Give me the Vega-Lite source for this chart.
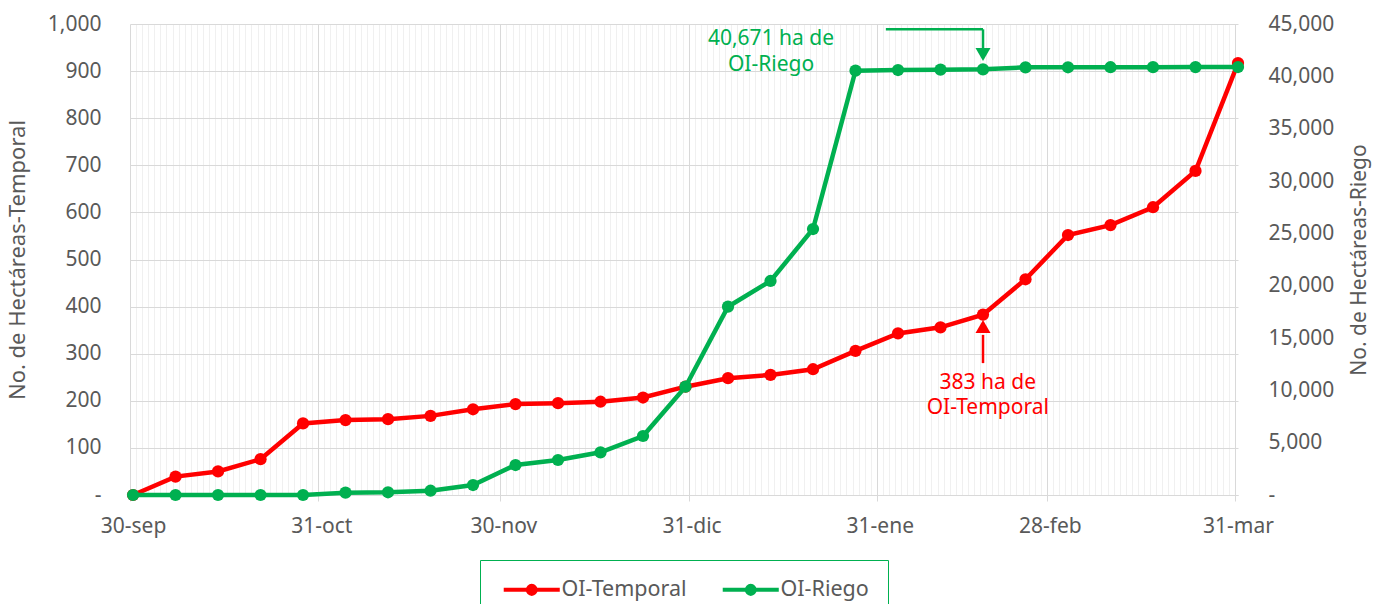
{
  "$schema": "https://vega.github.io/schema/vega-lite/v6.json",
  "width": 1108,
  "height": 471,
  "autosize": {"type": "none"},
  "padding": {"left": 130, "top": 24, "right": 136, "bottom": 109},
  "datasets": {
    "serie": [
      {"date": "2022-09-30", "temporal": 0, "riego": 0},
      {"date": "2022-10-07", "temporal": 39, "riego": 0},
      {"date": "2022-10-14", "temporal": 50, "riego": 0},
      {"date": "2022-10-21", "temporal": 76, "riego": 0},
      {"date": "2022-10-28", "temporal": 152, "riego": 0},
      {"date": "2022-11-04", "temporal": 159, "riego": 220},
      {"date": "2022-11-11", "temporal": 161, "riego": 260},
      {"date": "2022-11-18", "temporal": 168, "riego": 410},
      {"date": "2022-11-25", "temporal": 182, "riego": 955},
      {"date": "2022-12-02", "temporal": 193, "riego": 2866},
      {"date": "2022-12-09", "temporal": 195, "riego": 3344},
      {"date": "2022-12-16", "temporal": 198, "riego": 4077},
      {"date": "2022-12-23", "temporal": 207, "riego": 5637},
      {"date": "2022-12-30", "temporal": 230, "riego": 10347},
      {"date": "2023-01-06", "temporal": 248, "riego": 17990},
      {"date": "2023-01-13", "temporal": 255, "riego": 20446},
      {"date": "2023-01-20", "temporal": 267, "riego": 25413},
      {"date": "2023-01-27", "temporal": 306, "riego": 40540},
      {"date": "2023-02-03", "temporal": 343, "riego": 40605},
      {"date": "2023-02-10", "temporal": 356, "riego": 40640},
      {"date": "2023-02-17", "temporal": 383, "riego": 40671},
      {"date": "2023-02-24", "temporal": 458, "riego": 40860},
      {"date": "2023-03-03", "temporal": 552, "riego": 40865},
      {"date": "2023-03-10", "temporal": 573, "riego": 40870},
      {"date": "2023-03-17", "temporal": 611, "riego": 40875},
      {"date": "2023-03-24", "temporal": 688, "riego": 40880},
      {"date": "2023-03-31", "temporal": 917, "riego": 40890}
    ],
    "temporal_label": [{"date": "2023-02-17T19:00:00Z", "temporal": 237.8, "label": "383 ha de\nOI-Temporal"}],
    "temporal_arrow": [{"date": "2023-02-17", "temporal": 280, "temporal2": 340}],
    "temporal_head": [{"date": "2023-02-17", "temporal": 357.7}],
    "riego_label": [{"date": "2023-01-13T02:00:00Z", "riego": 43566, "label": "40,671 ha de\nOI-Riego"}],
    "riego_arrow": [
      {"date": "2023-02-01", "date2": "2023-02-17", "riego": 44493, "riego2": 44493},
      {"date": "2023-02-17", "date2": "2023-02-17", "riego": 44493, "riego2": 42706}
    ],
    "riego_head": [{"date": "2023-02-17", "riego": 42086}]
  },
  "encoding": {
    "x": {
      "field": "date",
      "type": "temporal",
      "title": null,
      "scale": {
        "type": "utc",
        "nice": false,
        "domain": [
          {"year": 2022, "month": 9, "date": 29, "hours": 12, "utc": true},
          {"year": 2023, "month": 3, "date": 31, "utc": true}
        ]
      },
      "axis": {
        "title": null,
        "tickCount": {"interval": "day", "step": 1},
        "grid": true,
        "gridColor": {"condition": {"test": "utcdate(time(datum.value) + 86400000) == 1", "value": "#d9d9d9"}, "value": "#f0f0f0"},
        "gridWidth": 1,
        "tickOffset": -3,
        "labelOffset": 3,
        "ticks": true,
        "tickSize": 6,
        "tickColor": {"condition": {"test": "utcdate(time(datum.value) + 86400000) == 1", "value": "#d9d9d9"}, "value": "rgba(0,0,0,0)"},
        "domain": true,
        "domainColor": "#d9d9d9",
        "domainWidth": 1,
        "labelExpr": "utcdate(time(datum.value) + 86400000) == 1 ? utcFormat(datum.value, '%d') + '-' + ['ene','feb','mar','abr','may','jun','jul','ago','sep','oct','nov','dic'][utcmonth(datum.value)] : ''",
        "labelOverlap": false,
        "labelFlush": false,
        "labelBound": false,
        "labelFontSize": 21,
        "labelColor": "#595959",
        "labelPadding": 14
      }
    }
  },
  "layer": [
    {
      "encoding": {
        "y": {
          "field": "temporal",
          "type": "quantitative",
          "scale": {"domain": [0, 1000], "nice": false, "zero": true},
          "axis": {
            "orient": "left",
            "title": "No. de Hectáreas-Temporal",
            "values": [0, 100, 200, 300, 400, 500, 600, 700, 800, 900, 1000],
            "labelExpr": "datum.value == 0 ? '-' : format(datum.value, ',')",
            "grid": true,
            "gridColor": "#d9d9d9",
            "gridWidth": 1,
            "domain": false,
            "ticks": false,
            "tickSize": 0,
            "labelPadding": 29,
            "labelFontSize": 21,
            "labelColor": "#595959",
            "titleFontSize": 22,
            "titleFontWeight": "normal",
            "titleColor": "#595959",
            "titlePadding": 18
          }
        }
      },
      "layer": [
        {
          "data": {"name": "serie"},
          "mark": {"type": "line", "strokeWidth": 4.5, "point": {"filled": true, "size": 150, "opacity": 1}},
          "encoding": {
            "color": {
              "datum": "OI-Temporal",
              "type": "nominal",
              "scale": {"domain": ["OI-Temporal", "OI-Riego"], "range": ["#ff0000", "#00b050"]},
              "legend": {
                "title": null,
                "orient": "none",
                "legendX": 350,
                "legendY": 536,
                "direction": "horizontal",
                "padding": 19,
                "strokeColor": "#00b050",
                "symbolType": "M-4.67,0H4.67M0.667,0A0.667,0.667,0,1,1,-0.667,0A0.667,0.667,0,1,1,0.667,0M0.167,0A0.167,0.167,0,1,1,-0.167,0A0.167,0.167,0,1,1,0.167,0",
                "symbolSize": 144,
                "symbolStrokeWidth": 4,
                "symbolOffset": 22,
                "labelOffset": 19,
                "labelFontSize": 21.5,
                "labelColor": "#595959",
                "columnPadding": 27
              }
            }
          }
        },
        {
          "data": {"name": "temporal_arrow"},
          "mark": {"type": "rule", "color": "#ff0000", "strokeWidth": 2.5},
          "encoding": {"y2": {"field": "temporal2"}}
        },
        {
          "data": {"name": "temporal_head"},
          "mark": {"type": "point", "shape": "triangle-up", "filled": true, "size": 225, "color": "#ff0000", "opacity": 1},
          "encoding": {}
        },
        {
          "data": {"name": "temporal_label"},
          "mark": {"type": "text", "color": "#ff0000", "fontSize": 21, "lineBreak": "\n", "lineHeight": 25.5, "baseline": "middle", "align": "center"},
          "encoding": {"text": {"field": "label"}}
        }
      ]
    },
    {
      "encoding": {
        "y": {
          "field": "riego",
          "type": "quantitative",
          "scale": {"domain": [0, 45000], "nice": false, "zero": true},
          "axis": {
            "orient": "right",
            "title": "No. de Hectáreas-Riego",
            "values": [0, 5000, 10000, 15000, 20000, 25000, 30000, 35000, 40000, 45000],
            "labelExpr": "datum.value == 0 ? '-' : format(datum.value, ',')",
            "grid": false,
            "domain": false,
            "ticks": false,
            "tickSize": 0,
            "labelPadding": 30,
            "labelFontSize": 21,
            "labelColor": "#595959",
            "titleFontSize": 21,
            "titleFontWeight": "normal",
            "titleColor": "#595959",
            "titleAngle": 270,
            "titleBaseline": "top",
            "titlePadding": 15
          }
        }
      },
      "layer": [
        {
          "data": {"name": "serie"},
          "mark": {"type": "line", "strokeWidth": 4.5, "point": {"filled": true, "size": 150, "opacity": 1}},
          "encoding": {
            "color": {
              "datum": "OI-Riego",
              "type": "nominal",
              "scale": {"domain": ["OI-Temporal", "OI-Riego"], "range": ["#ff0000", "#00b050"]},
              "legend": {
                "title": null,
                "orient": "none",
                "legendX": 350,
                "legendY": 536,
                "direction": "horizontal",
                "padding": 19,
                "strokeColor": "#00b050",
                "symbolType": "M-4.67,0H4.67M0.667,0A0.667,0.667,0,1,1,-0.667,0A0.667,0.667,0,1,1,0.667,0M0.167,0A0.167,0.167,0,1,1,-0.167,0A0.167,0.167,0,1,1,0.167,0",
                "symbolSize": 144,
                "symbolStrokeWidth": 4,
                "symbolOffset": 22,
                "labelOffset": 19,
                "labelFontSize": 21.5,
                "labelColor": "#595959",
                "columnPadding": 27
              }
            }
          }
        },
        {
          "data": {"name": "riego_arrow"},
          "mark": {"type": "rule", "color": "#00b050", "strokeWidth": 2.5},
          "encoding": {"x2": {"field": "date2"}, "y2": {"field": "riego2"}}
        },
        {
          "data": {"name": "riego_head"},
          "mark": {"type": "point", "shape": "triangle-down", "filled": true, "size": 225, "color": "#00b050", "opacity": 1},
          "encoding": {}
        },
        {
          "data": {"name": "riego_label"},
          "mark": {"type": "text", "color": "#00b050", "fontSize": 21, "lineBreak": "\n", "lineHeight": 25.5, "baseline": "middle", "align": "center"},
          "encoding": {"text": {"field": "label"}}
        }
      ]
    }
  ],
  "resolve": {"scale": {"y": "independent"}},
  "config": {
    "view": {"stroke": null},
    "font": "Noto Sans",
    "text": {"font": "Noto Sans"}
  }
}
